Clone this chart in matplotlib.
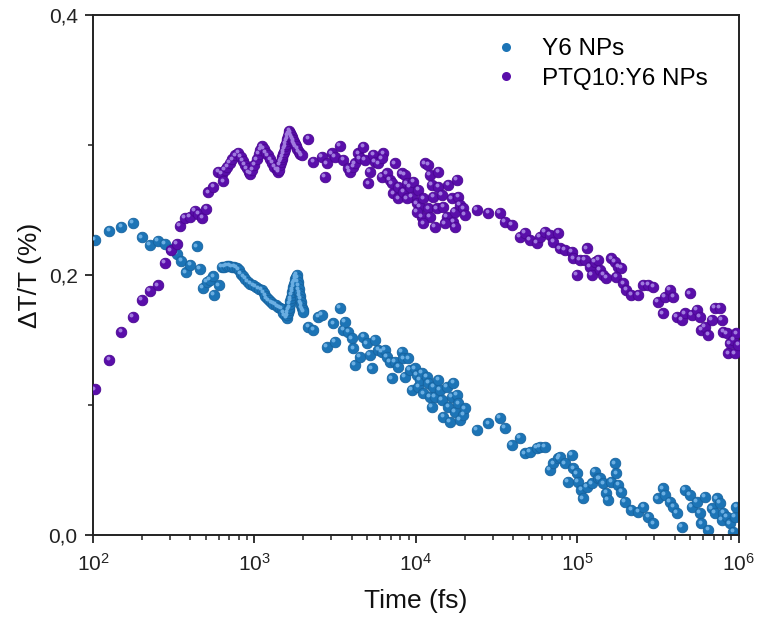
import matplotlib
matplotlib.use('Agg')
import matplotlib.pyplot as plt
from matplotlib.ticker import FixedLocator, FuncFormatter, LogLocator, NullFormatter
from matplotlib.transforms import offset_copy
from matplotlib.lines import Line2D

plt.rcParams['font.family'] = ['Liberation Sans', 'DejaVu Sans']
plt.rcParams['mathtext.fontset'] = 'custom'
plt.rcParams['mathtext.rm'] = 'Liberation Sans'
plt.rcParams['mathtext.it'] = 'Liberation Sans:italic'

# ---------------- data ----------------
y6_time = [
    103, 126, 150, 176, 200, 225, 251, 278, 302, 329, 353, 375, 400, 440, 460, 478, 506, 530, 556, 560, 600,
    627, 650, 675, 700, 725, 750, 776, 800, 825, 853, 880, 910, 945, 984, 1020, 1060, 1109, 1140, 1165, 1191,
    1230, 1270, 1307, 1350, 1400, 1440, 1473, 1510, 1545, 1581, 1595, 1610, 1625, 1640, 1655, 1670, 1685, 1700,
    1715, 1730, 1745, 1760, 1775, 1790, 1805, 1824, 1837, 1850, 1865, 1880, 1895, 1910, 1925, 1940, 1955, 1970,
    1990, 2005,
    2153, 2312, 2483,
    2606, 2799, 3076, 3150, 3381, 3548, 3631, 3811, 3999, 4093, 4190, 4500, 4721, 4955, 5188, 5321, 5572, 5848,
    6124, 6427, 6577, 6902, 7063, 7413, 7780, 8147, 8356, 8551, 8974, 9183, 9397, 9863, 10090, 10330, 10590,
    10840, 11090, 11640, 11910, 12210, 12500, 12790, 13120, 13740, 14090, 14420, 14760, 15490, 15850, 16250,
    16630, 17020, 17420, 17860, 18280, 18710, 19630, 20090,
    23770, 28070,
    33110, 35560, 39100, 44060, 47300, 50800, 55870, 58610, 62950, 67610, 70790, 76030, 77930, 83560, 87000,
    91980, 94180, 98850, 101000, 106000, 108000, 114000, 122400, 128300, 134500, 137700, 144500, 151400, 155000,
    162600, 170600, 174600, 179100, 187500, 196000, 216300, 238200, 255500, 274300, 294500, 316200, 339600,
    348300, 374100, 391700, 411200, 441600, 463400, 497100, 509300, 547000, 572800, 587200, 615200, 645700,
    677400, 709800, 728000, 762100, 781600, 800000, 839500, 879000, 922500, 944000, 966000,
]
y6_dtt = [
    0.227, 0.234, 0.237, 0.240, 0.229, 0.223, 0.226, 0.224, 0.220, 0.216, 0.211, 0.202, 0.208, 0.222, 0.205,
    0.190, 0.195, 0.196, 0.199, 0.185, 0.192,
    0.206, 0.2065, 0.207, 0.207, 0.2065, 0.206, 0.2055, 0.204, 0.201, 0.199, 0.197, 0.195, 0.193, 0.192, 0.191,
    0.1895, 0.1885, 0.186, 0.184, 0.182, 0.1805, 0.179, 0.178, 0.177, 0.1755, 0.1745, 0.174, 0.171, 0.169,
    0.1667, 0.169, 0.171, 0.173, 0.175, 0.1775, 0.180, 0.182, 0.1845, 0.187, 0.189, 0.191, 0.193, 0.195, 0.197,
    0.1985, 0.200, 0.1975, 0.195, 0.192, 0.189, 0.1865, 0.184, 0.1815, 0.179, 0.177, 0.175, 0.173, 0.1718,
    0.160, 0.158, 0.168,
    0.1692, 0.1449, 0.1628, 0.1487, 0.1744, 0.1577, 0.1641, 0.1564, 0.1513, 0.1436, 0.1308, 0.1372, 0.1526,
    0.1474, 0.1385, 0.1282, 0.1500, 0.1423, 0.1410, 0.1423, 0.1372, 0.1333, 0.1205, 0.1333, 0.1295, 0.1410,
    0.1359, 0.1218, 0.1359, 0.1269, 0.1115, 0.1282, 0.1231, 0.1141, 0.1192, 0.1244, 0.1090, 0.1218, 0.1167,
    0.1064, 0.0987, 0.1141, 0.1064, 0.1192, 0.1115, 0.1038, 0.0910, 0.1141, 0.0987, 0.0872, 0.1064, 0.1167,
    0.0949, 0.1077, 0.1013, 0.0885, 0.0923, 0.0974,
    0.0807, 0.0859,
    0.0898, 0.0821, 0.0692, 0.0744, 0.0628, 0.0641, 0.0667, 0.0680, 0.0680, 0.0500, 0.0551, 0.0590, 0.0603,
    0.0551, 0.0410, 0.0615, 0.0513, 0.0474, 0.0410, 0.0346, 0.0282, 0.0372, 0.0397, 0.0487, 0.0436, 0.0436,
    0.0397, 0.0321, 0.0269, 0.0410, 0.0551, 0.0474, 0.0385, 0.0333, 0.0256, 0.0192, 0.0179, 0.0218, 0.0141,
    0.0090, 0.0282, 0.0359, 0.0308, 0.0256, 0.0218, 0.0167, 0.0064, 0.0346, 0.0308, 0.0218, 0.0256, 0.0167,
    0.0090, 0.0295, 0.0038, 0.0205, 0.0167, 0.0282, 0.0244, 0.0115, 0.0167, 0.0141, 0.0090, 0.0026, 0.0141,
    0.0218,
]

ptq_time = [
    103, 126, 150, 176, 200, 225, 251, 278, 302, 329, 344, 370, 398, 427, 450, 475, 502, 518, 556, 597, 627, 641,
    657, 680, 705, 730, 760, 794, 820, 845, 870, 895, 920, 944, 970, 1000, 1030, 1060, 1085, 1109, 1140, 1175,
    1210, 1250, 1290, 1330, 1370, 1404, 1420, 1440, 1460, 1475, 1490, 1505, 1520, 1535, 1550, 1565, 1580, 1595,
    1610, 1628, 1647, 1665, 1680, 1700, 1720, 1740, 1760, 1780, 1800, 1840, 1880, 1920, 1960,
    2153, 2312,
    2606, 2799, 2735, 3006, 3150, 3381, 3548, 3811, 3900, 4093, 4190, 4395, 4500, 4721, 4831, 5188, 5070, 5445,
    5572, 5848, 6281, 6124, 6124, 6577, 6902, 7413, 7244, 7063, 7780, 7780, 8147, 8551, 8356, 8750, 9183, 9397,
    9638, 10090, 10330, 10590, 10840, 11090, 11370, 11910, 12210, 12500, 12790, 11910, 12210, 13120, 13430,
    13740, 13740, 14420, 14760, 15490, 15850, 16630, 17020, 17420, 17860, 18280, 18710, 19630, 20090, 17420,
    15130, 11090, 10090, 8750,
    23770, 28070,
    33110, 35560, 39100, 44060, 47300, 50800, 55870, 58610, 62950, 67610, 70790, 76030, 77930, 83560, 91980,
    94180, 98850, 103500, 114000, 111200, 119400, 122400, 128300, 134500, 137700, 144500, 151400, 162600,
    170600, 179100, 187500, 174600, 192300, 201400, 216300, 238200, 255500, 274300, 294500, 316200, 339600,
    348300, 374100, 391700, 411200, 441600, 463400, 497100, 509300, 547000, 572800, 587200, 615200, 645700,
    677400, 709800, 762100, 781600, 799800, 839500, 859000, 879000, 922500, 944000, 966000, 990000,
]
ptq_dtt = [
    0.112, 0.135, 0.156, 0.168, 0.181, 0.188, 0.192, 0.2095, 0.219, 0.224, 0.238, 0.244, 0.245, 0.2495, 0.247,
    0.244, 0.251, 0.2635, 0.268, 0.2795, 0.2777, 0.272,
    0.281, 0.283, 0.286, 0.289, 0.292, 0.294, 0.291, 0.288, 0.285, 0.282, 0.279, 0.278, 0.281, 0.285, 0.289,
    0.293, 0.296, 0.299, 0.297, 0.294, 0.292, 0.289, 0.286, 0.283, 0.281, 0.2795, 0.281, 0.2845, 0.287, 0.289,
    0.291, 0.293, 0.295, 0.297, 0.299, 0.301, 0.303, 0.305, 0.307, 0.309, 0.311, 0.3095, 0.308, 0.3065, 0.305,
    0.3035, 0.302, 0.3005, 0.299, 0.297, 0.295, 0.293, 0.292,
    0.305, 0.287,
    0.2910, 0.2859, 0.2756, 0.2935, 0.2910, 0.2992, 0.2884, 0.2820, 0.2794, 0.2833, 0.2859, 0.2935, 0.2897,
    0.2987, 0.2884, 0.2794, 0.2705, 0.2923, 0.2871, 0.2859, 0.2935, 0.2897, 0.2756, 0.2782, 0.2730, 0.2859,
    0.2628, 0.2705, 0.2679, 0.2589, 0.2782, 0.2769, 0.2641, 0.2705, 0.2679, 0.2602, 0.2718, 0.2551, 0.2653,
    0.2525, 0.2448, 0.2589, 0.2859, 0.2846, 0.2769, 0.2692, 0.2602, 0.2512, 0.2448, 0.2371, 0.2512, 0.2679,
    0.2794, 0.2615, 0.2525, 0.2448, 0.2692, 0.2589, 0.2410, 0.2487, 0.2730, 0.2602, 0.2538, 0.2512, 0.2461,
    0.2371, 0.2397, 0.2397, 0.2487, 0.2589,
    0.2500, 0.2479,
    0.2475, 0.2410, 0.2385, 0.2295, 0.2321, 0.2269, 0.2244, 0.2295, 0.2334, 0.2308, 0.2257, 0.2321, 0.2205,
    0.2193, 0.2180, 0.2128, 0.2000, 0.2116, 0.2205, 0.2116, 0.2064, 0.2000, 0.2103, 0.2116, 0.2039, 0.2000,
    0.1975, 0.2128, 0.2103, 0.2064, 0.2052, 0.1987, 0.1936, 0.1885, 0.1846, 0.1846, 0.1923, 0.1923, 0.1910,
    0.1795, 0.1705, 0.1833, 0.1885, 0.1833, 0.1680, 0.1654, 0.1705, 0.1859, 0.1692, 0.1731, 0.1680, 0.1577,
    0.1603, 0.1538, 0.1654, 0.1744, 0.1744, 0.1654, 0.1564, 0.1551, 0.1397, 0.1474, 0.1500, 0.1397, 0.1551,
    0.1462,
]

series_labels = ['Y6 NPs', 'PTQ10:Y6 NPs']
x_tick_values = [1e2, 1e3, 1e4, 1e5, 1e6]
y_tick_values = [0.0, 0.2, 0.4]
y_minor_values = [0.1, 0.3]

# ---------------- styling ----------------
blue_base, blue_edge, blue_hi = '#1c74b6', '#16639f', '#6aaee2'
purp_base, purp_edge, purp_hi = '#5a0eaa', '#4a0692', '#a07ade'

fig = plt.figure(figsize=(7.58, 6.25), dpi=100)
ax = fig.add_axes([0.1227, 0.144, 0.852, 0.832])
ax.set_xscale('log')
ax.set_xlim(1e2, 1e6)
ax.set_ylim(0, 0.4)

hi_trans = offset_copy(ax.transData, fig=fig, x=-1.6, y=1.8, units='dots')

for t, v, base, edge, hi, z in [(y6_time, y6_dtt, blue_base, blue_edge, blue_hi, 2),
                                (ptq_time, ptq_dtt, purp_base, purp_edge, purp_hi, 4)]:
    ax.scatter(t, v, s=58, c=base, edgecolors=edge, linewidths=0.6, zorder=z)
    ax.scatter(t, v, s=8, c=hi, linewidths=0, zorder=z + 1, transform=hi_trans)

for sp in ax.spines.values():
    sp.set_linewidth(1.4)
    sp.set_color('#222222')

ax.xaxis.set_major_locator(FixedLocator(x_tick_values))
ax.xaxis.set_minor_locator(LogLocator(base=10, subs=range(2, 10), numticks=20))
ax.xaxis.set_minor_formatter(NullFormatter())
ax.yaxis.set_major_locator(FixedLocator(y_tick_values))
ax.yaxis.set_minor_locator(FixedLocator(y_minor_values))
ax.yaxis.set_major_formatter(FuncFormatter(lambda v, p: f"{v:.1f}".replace('.', ',')))
ax.tick_params(which='major', direction='out', length=6, width=1.3, labelsize=15,
               top=False, right=False, colors='#222222', pad=5)
ax.tick_params(which='minor', direction='out', length=3.5, width=1.1, top=False, right=False,
               colors='#222222')
ax.tick_params(axis='x', which='major', pad=7)

ax.set_xlabel('Time (fs)', fontsize=19, labelpad=10, color='#111111')
ax.set_ylabel('ΔT/T (%)', fontsize=19, labelpad=5, color='#111111')

handles = [Line2D([], [], marker='o', ls='none', markersize=6.5, color=blue_base, markeredgewidth=0),
           Line2D([], [], marker='o', ls='none', markersize=6.5, color=purp_base, markeredgewidth=0)]
ax.legend(handles, series_labels, loc='upper right', bbox_to_anchor=(0.952, 0.955), frameon=False,
          fontsize=17.5, handletextpad=0.75, labelspacing=0.3, borderpad=0, borderaxespad=0,
          handlelength=1.5)

fig.savefig('out.png', dpi=100)
